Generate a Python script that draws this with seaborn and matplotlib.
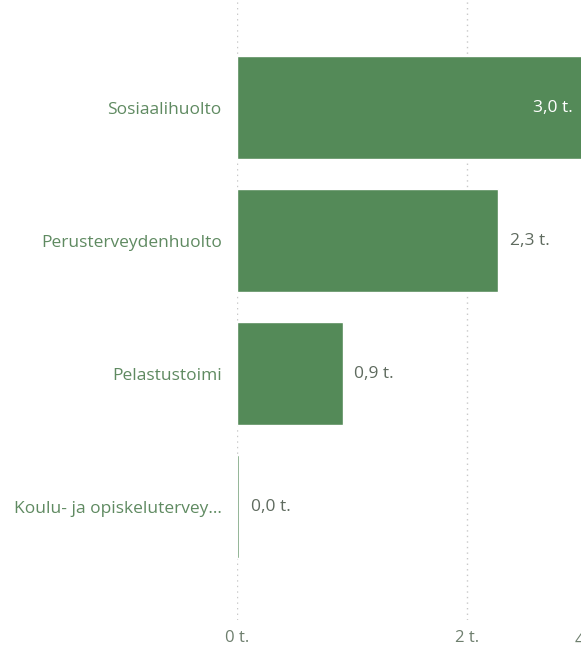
import matplotlib.pyplot as plt
import pandas as pd
import seaborn as sns

categories = ["Sosiaalihuolto", "Perusterveydenhuolto", "Pelastustoimi", "Koulu- ja opiskelutervey..."]
values = [3.0, 2.27, 0.92, 0.02]
value_labels = ["3,0 t.", "2,3 t.", "0,9 t.", "0,0 t."]
x_ticks = [0, 2]
x_tick_labels = ["0 t.", "2 t."]

BAR = "#548a58"
TEXT = "#5f8a61"
VAL = "#5f6b5f"
TICK = "#6e7f6e"
FS = 12.5


def main() -> None:
    sns.set_theme(style="white")
    plt.rcParams["font.family"] = ["Open Sans", "DejaVu Sans"]

    df = pd.DataFrame({"category": categories, "value": values})

    fig = plt.figure(figsize=(5.81, 6.47), dpi=100)
    ax = fig.add_axes([237 / 581, 27 / 647, 345 / 581, 620 / 647])

    sns.barplot(data=df, x="value", y="category", orient="h", color=BAR,
                saturation=1, width=0.775, ax=ax)

    ax.set_xticks(x_ticks)
    ax.set_xticklabels(x_tick_labels)
    ax.set_xlim(0, 3.0)
    ax.set_ylim(3.85, -0.81)
    ax.set_xlabel("")
    ax.set_ylabel("")
    for s in ax.spines.values():
        s.set_visible(False)
    ax.xaxis.grid(True, linestyle=(0, (1, 3)), color="#c8c8c8", linewidth=1)
    ax.set_axisbelow(True)
    ax.tick_params(axis="x", length=0, pad=7, labelsize=12, labelcolor=TICK)
    ax.tick_params(axis="y", length=0, pad=11, labelsize=FS, labelcolor=TEXT)

    for i, (v, lab) in enumerate(zip(values, value_labels)):
        if v > 2.8:
            ax.text(v - 0.08, i, lab, ha="right", va="center", color="white", fontsize=FS)
        else:
            ax.text(v + 0.1, i, lab, ha="left", va="center", color=VAL, fontsize=FS)

    # next tick label, cut off by the right edge as in the source
    fig.text(575 / 581, 6 / 647, "4 t.", ha="left", va="center", color=TICK, fontsize=12)

    fig.savefig("out.png", dpi=100)
    plt.close(fig)


if __name__ == "__main__":
    main()
